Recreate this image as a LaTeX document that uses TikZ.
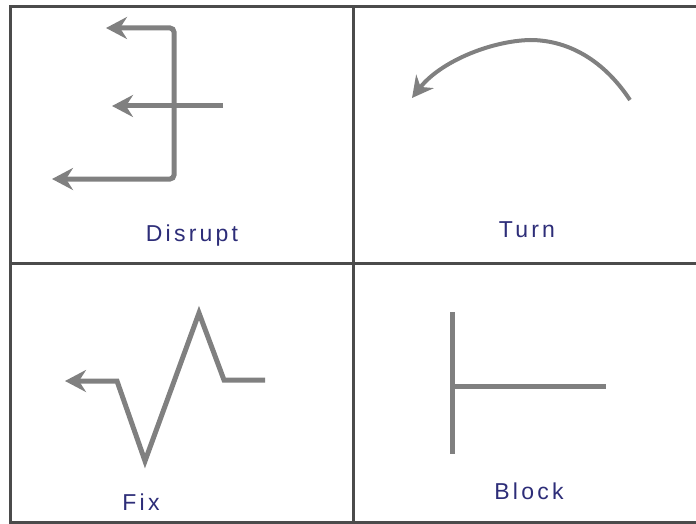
\documentclass[tikz,border=0pt]{standalone}
\usepackage{fontspec}
\setsansfont{Liberation Sans}
\newfontfamily\cellfont[LetterSpace=14]{Liberation Sans}
\usetikzlibrary{arrows.meta}
\definecolor{framegray}{RGB}{75,75,75}
\definecolor{signgray}{RGB}{128,128,128}
\definecolor{captionblue}{RGB}{45,45,120}

\begin{document}
\begin{tikzpicture}[x=1pt,y=-1pt,
  frame/.style={framegray,line width=3pt},
  sign/.style={signgray,line width=5pt},
  tip/.style={-{Stealth[length=21pt,width=22pt,inset=7pt]}},
  caption/.style={captionblue,anchor=base,font=\cellfont\fontsize{23}{27}\selectfont}]
  \useasboundingbox (0,0) rectangle (696,524);
  % grid
  \draw[frame] (697,7) -- (10,7) -- (10,522) -- (697,522);
  \draw[frame] (353,7) -- (353,522);
  \draw[frame] (10,263) -- (697,263);
  % disrupt
  \draw[sign,{Stealth[length=21pt,width=22pt,inset=7pt]}-{Stealth[length=21pt,width=22pt,inset=7pt]},rounded corners=4pt]
    (52,179) -- (174,179) -- (174,28) -- (106,28);
  \draw[sign,tip] (223,106) -- (112,106);
  \node[caption] (disrupt) at (192,241) {Disrupt};
  % turn
  \draw[sign,tip,line width=4pt] (630,100) .. controls (605,62) and (570,40) .. (530,40)
    .. controls (490,41) and (440,62) .. (412,98);
  \node[caption] (turn) at (527,237) {Turn};
  % fix
  \draw[sign,tip] (265,380) -- (224,380) -- (199,313) -- (145,461) -- (117,381) -- (65,381);
  \node[caption] (fix) at (141,510) {Fix};
  % block
  \draw[sign] (452,312) -- (452,454);
  \draw[sign] (452,386) -- (606,386);
  \node[caption] (block) at (529,499) {Block};
\end{tikzpicture}
\end{document}
